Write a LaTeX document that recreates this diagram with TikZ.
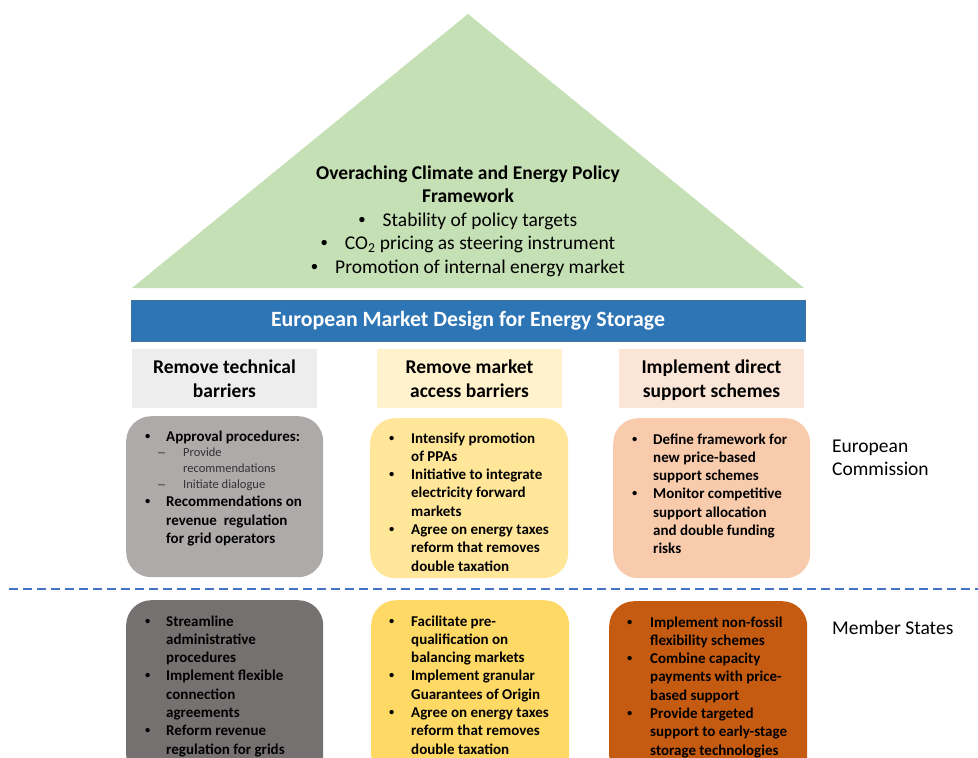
\documentclass[tikz,border=0pt]{standalone}
\usepackage{fontspec}
\setmainfont{Carlito}
\newfontfamily\bulletfont{Liberation Sans}
\usepackage{array}

\definecolor{roofgreen}{HTML}{C5E0B4}
\definecolor{bannerblue}{HTML}{2E75B6}
\definecolor{bannerline}{HTML}{41719C}
\definecolor{hdrgray}{HTML}{EDEDED}
\definecolor{hdryellow}{HTML}{FFF2CC}
\definecolor{hdrorange}{HTML}{FBE5D6}
\definecolor{ecgray}{HTML}{AEAAAA}
\definecolor{ecyellow}{HTML}{FFE699}
\definecolor{ecorange}{HTML}{F8CBAD}
\definecolor{msgray}{HTML}{767171}
\definecolor{msyellow}{HTML}{FFD966}
\definecolor{msorange}{HTML}{C55A11}
\definecolor{splitblue}{HTML}{4472C4}

\newcommand{\itemfont}{\fontsize{15}{18.3}\selectfont\bfseries}
\newcommand{\subfont}{\fontsize{12.5}{15.5}\selectfont\mdseries\color{black!80}}
\newcommand{\blt}{{\bulletfont\textbullet}}
\newcommand{\dashitem}[1]{\hspace{-8pt}\makebox[25pt][l]{\bulletfont –}#1}

\tikzset{
  panel/.style={rounded corners=25pt, anchor=north west, inner sep=0pt, draw=none},
  header/.style={anchor=north west, inner sep=0pt, minimum width=185pt, minimum height=59pt},
  itemtext/.style={anchor=base west, inner sep=0pt, font=\itemfont},
  hdrtext/.style={anchor=base, inner sep=0pt, font=\fontsize{19.5}{24}\selectfont\bfseries, align=center},
  sidetext/.style={anchor=base west, inner sep=0pt, font=\fontsize{19.5}{23}\selectfont},
}

\begin{document}
\begin{tikzpicture}[x=1pt,y=-1pt]
\useasboundingbox (0,0) rectangle (978,758);
\clip (0,0) rectangle (978,758);
\fill[white] (0,0) rectangle (978,758);

% roof: overarching policy framework
\coordinate (apex) at (468,14);
\coordinate (eaveL) at (132,288);
\coordinate (eaveR) at (804,288);
\fill[roofgreen] (apex) -- (eaveR) -- (eaveL) -- cycle;
\node[anchor=base, inner sep=0pt, font=\fontsize{19.5}{23.5}\selectfont] (roof) at (468,179)
  {\begin{tabular}[t]{@{}c@{}}
   \bfseries Overaching Climate and Energy Policy\\
   \bfseries Framework\\
   \makebox[24pt][l]{\blt}Stability of policy targets\\
   \makebox[24pt][l]{\blt}CO\textsubscript{2} pricing as steering instrument\\
   \makebox[24pt][l]{\blt}Promotion of internal energy market
   \end{tabular}};

% banner
\node[anchor=north west, inner sep=0pt, fill=bannerblue, draw=bannerline, line width=1pt,
      minimum width=674pt, minimum height=41pt] (banner) at (131,300) {};
\node[anchor=base, inner sep=0pt, text=white, font=\fontsize{21.8}{26}\selectfont\bfseries]
  (bannertext) at (468,326) {European Market Design for Energy Storage};

% column headers
\node[header, fill=hdrgray] (hTech) at (132,349) {};
\node[header, fill=hdryellow] (hAccess) at (377,349) {};
\node[header, fill=hdrorange] (hSupport) at (619,349) {};
\node[hdrtext] (hTechT) at (224.5,373) {\begin{tabular}[t]{@{}c@{}}Remove technical\\barriers\end{tabular}};
\node[hdrtext] (hAccessT) at (469.5,373) {\begin{tabular}[t]{@{}c@{}}Remove market\\access barriers\end{tabular}};
\node[hdrtext] (hSupportT) at (711.5,373) {\begin{tabular}[t]{@{}c@{}}Implement direct\\support schemes\end{tabular}};

% European Commission level
\node[panel, fill=ecgray, minimum width=197pt, minimum height=161pt] (ecTech) at (126,416) {};
\node[panel, fill=ecyellow, minimum width=198pt, minimum height=160pt] (ecAccess) at (370,418) {};
\node[panel, fill=ecorange, minimum width=197pt, minimum height=160pt] (ecSupport) at (613,418) {};

\node[itemtext] (ecTechT) at (145,441)
  {\begin{tabular}[t]{@{}p{21pt}@{}l@{}}
   \blt & Approval procedures:\\[-2.5pt]
   & {\subfont\dashitem{Provide}}\\[-2.5pt]
   & {\subfont\hspace{17pt}recommendations}\\[-2.5pt]
   & {\subfont\dashitem{Initiate dialogue}}\\
   \blt & Recommendations on\\
   & revenue\ \ regulation\\
   & for grid operators
   \end{tabular}};

\node[itemtext] (ecAccessT) at (389,443)
  {\begin{tabular}[t]{@{}p{22pt}@{}l@{}}
   \blt & Intensify promotion\\
   & of PPAs\\
   \blt & Initiative to integrate\\
   & electricity forward\\
   & markets\\
   \blt & Agree on energy taxes\\
   & reform that removes\\
   & double taxation
   \end{tabular}};

\node[itemtext] (ecSupportT) at (632,444)
  {\begin{tabular}[t]{@{}p{21pt}@{}l@{}}
   \blt & Define framework for\\
   & new price-based\\
   & support schemes\\
   \blt & Monitor competitive\\
   & support allocation\\
   & and double funding\\
   & risks
   \end{tabular}};

% level split
\coordinate (splitL) at (9,589);
\coordinate (splitR) at (978,589);
\draw[splitblue, line width=2.5pt, dash pattern=on 9pt off 5pt] (splitL) -- (splitR);

% Member States level
\node[panel, fill=msgray, minimum width=197pt, minimum height=180pt] (msTech) at (126,600) {};
\node[panel, fill=msyellow, minimum width=198pt, minimum height=180pt] (msAccess) at (371,600) {};
\node[panel, fill=msorange, minimum width=198pt, minimum height=180pt] (msSupport) at (609,601) {};

\node[itemtext] (msTechT) at (145,626)
  {\begin{tabular}[t]{@{}p{21pt}@{}l@{}}
   \blt & Streamline\\
   & administrative\\
   & procedures\\
   \blt & Implement flexible\\
   & connection\\
   & agreements\\
   \blt & Reform revenue\\
   & regulation for grids
   \end{tabular}};

\node[itemtext] (msAccessT) at (389,626)
  {\begin{tabular}[t]{@{}p{22pt}@{}l@{}}
   \blt & Facilitate pre-\\
   & qualification on\\
   & balancing markets\\
   \blt & Implement granular\\
   & Guarantees of Origin\\
   \blt & Agree on energy taxes\\
   & reform that removes\\
   & double taxation
   \end{tabular}};

\node[itemtext] (msSupportT) at (627,627)
  {\begin{tabular}[t]{@{}p{23pt}@{}l@{}}
   \blt & Implement non-fossil\\
   & flexibility schemes\\
   \blt & Combine capacity\\
   & payments with price-\\
   & based support\\
   \blt & Provide targeted\\
   & support to early-stage\\
   & storage technologies
   \end{tabular}};

% level labels
\node[sidetext] (ecLabel) at (832,452)
  {\begin{tabular}[t]{@{}l@{}}European\\Commission\end{tabular}};
\node[sidetext] (msLabel) at (832,634) {Member States};
\end{tikzpicture}
\end{document}
